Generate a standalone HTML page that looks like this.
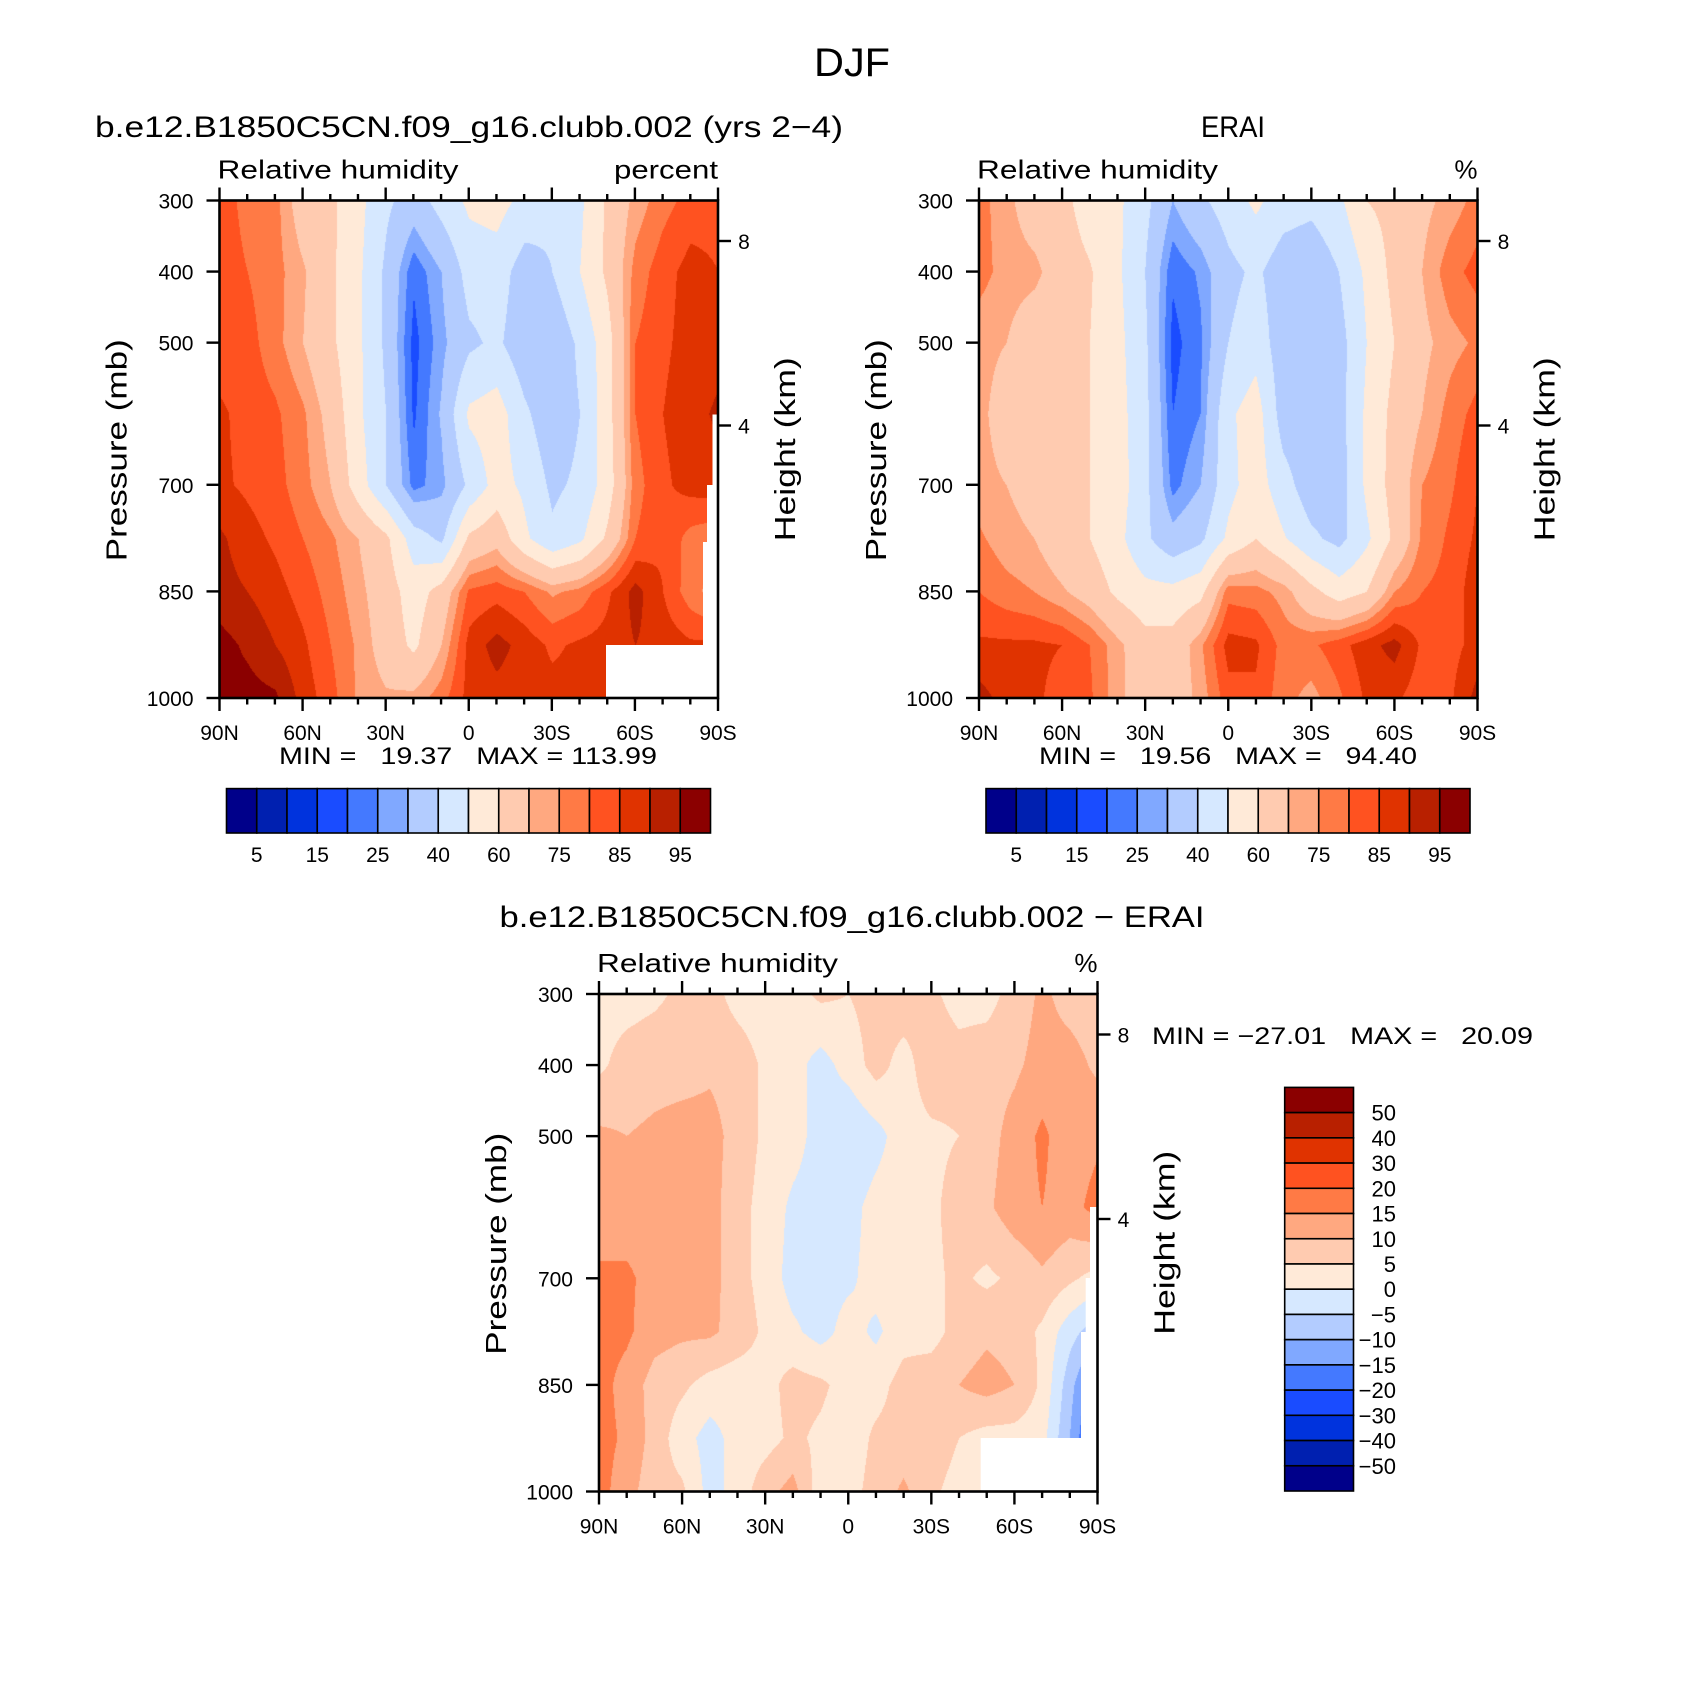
<!DOCTYPE html>
<html><head><meta charset="utf-8">
<style>
html,body{margin:0;padding:0;background:#fff;}
#wrap{position:relative;width:1697px;height:1694px;overflow:hidden;background:#fff;font-family:"Liberation Sans",sans-serif;}
canvas{position:absolute;}
svg{position:absolute;left:0;top:0;}
text{font-family:"Liberation Sans",sans-serif;fill:#000;}
</style></head>
<body>
<div id="wrap">
<canvas id="c1"></canvas>
<canvas id="c2"></canvas>
<canvas id="c3"></canvas>
<svg id="ov" width="1697" height="1694"></svg>
</div>
<script>
// ---- data ----
const latLabels = ["90N","60N","30N","0","30S","60S","90S"];
const pressureTicks = [300,400,500,700,850,1000];
const heightTicks = [8,4];
const levels = [300,400,500,600,700,775,850,925,1000];
const absBounds = [5,10,15,20,25,30,40,50,60,70,75,80,85,90,95];
const absLabels = ["5","15","25","40","60","75","85","95"];
const diffBounds = [-50,-40,-30,-20,-15,-10,-5,0,5,10,15,20,30,40,50];
const diffLabels = ["50","40","30","20","15","10","5","0","−5","−10","−15","−20","−30","−40","−50"];
const palette = ["#00008a","#0020b0","#0033dd","#1a4cff","#4479ff","#80a8ff","#b3ccff","#d6e8ff","#ffead8","#ffcbb0","#ffa880","#ff7a45","#ff5220","#e03300","#b82000","#8b0000"];
// model RH, rows = levels, columns 90N..90S every 10 deg
const modelRH = [
 [83,78,77,65,62,53,42,35,44,52,54,47,42,48,62,72,78,82,83],
 [83,80,77,71,62,52,38,21,30,44,45,35,40,50,62,77,83,87,85],
 [82,82,77,70,62,52,38,18,28,38,42,33,32,42,56,80,84,87,88],
 [86,83,81,76,67,52,40,19,31,52,55,42,33,40,56,80,85,88,91],
 [86,84,82,77,70,55,40,23,28,42,54,48,38,42,55,78,84,87,88],
 [91,87,84,80,76,70,62,45,38,62,67,52,42,48,62,80,84,78,76],
 [92,90,87,83,78,72,65,55,64,81,83,80,74,77,84,92,85,77,72],
 [97,94,90,86,80,74,66,58,70,87,92,88,84,86,87,90,88,86,86],
 [97,97,96,88,82,74,71,72,78,87,88,87,87,87,87,87,87,87,87]
];
const eraiRH = [
 [77,72,65,63,55,52,43,30,38,45,52,45,43,48,60,63,68,72,77],
 [77,73,72,65,61,52,40,21,26,37,42,34,32,40,52,63,70,78,82],
 [72,70,64,62,60,53,42,18,24,40,46,34,30,36,50,60,68,73,76],
 [72,66,63,62,60,54,43,20,25,48,55,35,33,36,52,63,70,77,82],
 [72,70,67,63,60,55,43,23,30,47,55,44,34,35,52,64,75,79,85],
 [76,72,70,64,60,53,42,33,38,52,60,51,42,37,48,62,76,81,86],
 [80,77,75,71,66,58,53,53,57,78,77,73,63,55,60,75,80,82,88],
 [86,86,86,85,80,72,64,64,74,87,86,78,79,83,88,92,84,83,87],
 [92,88,86,83,81,72,65,65,72,83,84,77,73,79,86,86,82,84,92]
];
const diffRH = [
 [3,3,4,6,7,3,2,3,6,5,7,8,6,3,3,7,11,8,7],
 [4,7,8,8,9,8,4,2,-2,2,7,3,8,7,8,9,12,12,9],
 [11,10,11,12,12,8,4,2,-2,-5,-2,3,4,5,8,12,16,12,14],
 [12,12,12,12,12,7,3,-1,-2,-2,2,3,4,7,9,13,15,13,17],
 [16,16,13,12,12,7,3,-2,-2,-1,2,3,4,6,4,6,9,6,3],
 [17,16,12,11,11,8,4,1,-2,2,-1,3,3,7,9,8,4,-3,-8],
 [17,13,8,6,3,2,3,7,6,3,3,7,8,10,12,10,4,-8,-20],
 [17,14,8,2,-2,2,3,6,4,2,6,7,8,5,3,3,2,-10,-25],
 [17,12,7,6,-2,2,8,12,2,3,7,11,6,3,3,3,3,3,3]
];

// ---- geometry ----
const W = 498.5, H = 497.5;
const panels = [
 {id:"c1", x:219.5, y:200.5, data:modelRH, bounds:absBounds, name:"model"},
 {id:"c2", x:979, y:200.5, data:eraiRH, bounds:absBounds, name:"erai"},
 {id:"c3", x:599, y:994, data:diffRH, bounds:diffBounds, name:"difference"}
];
function xOfLat(i){ return i/18*W; }
function yOfP(p){ return (p-300)/700*H; }
function binColor(v,b){ let k=0; while(k<b.length && v>=b[k]) k++; return palette[k]; }
function hexRGB(h){ return [parseInt(h.substr(1,2),16),parseInt(h.substr(3,2),16),parseInt(h.substr(5,2),16)]; }

function sample(data,fi,p){
  let li=0; while(li<levels.length-2 && p>levels[li+1]) li++;
  const t=Math.min(1,Math.max(0,(p-levels[li])/(levels[li+1]-levels[li])));
  const i0=Math.min(17,Math.floor(fi)), s=fi-i0;
  const a=data[li][i0]*(1-s)+data[li][i0+1]*s;
  const b=data[li+1][i0]*(1-s)+data[li+1][i0+1]*s;
  return a*(1-t)+b*t;
}
panels.forEach(pn=>{
  const c=document.getElementById(pn.id);
  const w=Math.round(W), h=Math.round(H);
  c.width=w; c.height=h; c.style.left=pn.x+"px"; c.style.top=pn.y+"px";
  const ctx=c.getContext("2d"); const img=ctx.createImageData(w,h);
  const cache={};
  for(let py=0;py<h;py++){
    const p=300+(py+0.5)/H*700;
    for(let px=0;px<w;px++){
      const fi=(px+0.5)/W*18;
      const v=sample(pn.data,fi,p);
      const col=binColor(v,pn.bounds);
      const rgb=cache[col]||(cache[col]=hexRGB(col));
      const o=(py*w+px)*4;
      img.data[o]=rgb[0]; img.data[o+1]=rgb[1]; img.data[o+2]=rgb[2]; img.data[o+3]=255;
    }
  }
  ctx.putImageData(img,0,0);
});

// ---- SVG overlay ----
const NS="http://www.w3.org/2000/svg";
const svg=document.getElementById("ov");
function el(tag,attrs,parent){ const e=document.createElementNS(NS,tag); for(const k in attrs) e.setAttribute(k,attrs[k]); (parent||svg).appendChild(e); return e; }
function txt(s,x,y,size,anchor,parent,extra){ const t=el("text",Object.assign({x:x,y:y,"font-size":size,"text-anchor":anchor||"start"},extra||{}),parent); t.textContent=s; return t; }
function fit(len){ return {textLength:len,lengthAdjust:"spacingAndGlyphs"}; }

function drawAxes(pn, opts){
  const g=el("g",{});
  
  
  const X=pn.x, Y=pn.y;
  (opts.masks||[]).forEach(m=>{
    const r=el("polygon",{points:m.map(q=>(X+q[0])+","+(Y+q[1])).join(" "),fill:"#fff"},g);
    
    
  });
  const frame=el("rect",{x:X,y:Y,width:W,height:H,fill:"none",stroke:"#000","stroke-width":2.6},g);
  
  
  for(let i=0;i<=18;i++){
    const x=X+xOfLat(i), major=(i%3===0), L=major?13:6.5;
    el("line",{x1:x,y1:Y+H,x2:x,y2:Y+H+L,stroke:"#000","stroke-width":2.4},g);
    el("line",{x1:x,y1:Y,x2:x,y2:Y-L,stroke:"#000","stroke-width":2.4},g);
  }
  latLabels.forEach((s,k)=>{
    const t=txt(s,X+xOfLat(k*3),Y+H+42,21,"middle",g);
    
    
  });
  pressureTicks.forEach(p=>{
    const y=Y+yOfP(p);
    el("line",{x1:X,y1:y,x2:X-13,y2:y,stroke:"#000","stroke-width":2.4},g);
    const t=txt(String(p),X-26,y+8,21,"end",g);
    
    
  });
  heightTicks.forEach(hk=>{
    const y=Y+40.5+(8-hk)/4*184.5;
    el("line",{x1:X+W,y1:y,x2:X+W+13,y2:y,stroke:"#000","stroke-width":2.4},g);
    const t=txt(String(hk),X+W+26,y+8,21,"middle",g);
    
    
  });
  const pl=txt("Pressure (mb)",0,0,29,"middle",g,Object.assign({transform:`translate(${X-93},${Y+H/2+1}) rotate(-90)`},fit(222)));
  
  
  const hl=txt("Height (km)",0,0,29,"middle",g,Object.assign({transform:`translate(${X+W+77},${Y+H/2}) rotate(-90)`},fit(184)));
  
  
  const rl=txt("Relative humidity",X-2,Y-22,26,"start",g,fit(241));
  
  
  const ul=txt(opts.units,X+W,Y-22,26,"end",g,opts.units==="percent"?fit(104):{});
  
  
  const tl=txt(opts.title,opts.titleX,opts.titleY,30,"middle",g,opts.titleLen?fit(opts.titleLen):{});
  
  
  const mm=txt(opts.minmax,opts.mmX,opts.mmY,24,opts.mmAnchor,g,Object.assign({"xml:space":"preserve",style:"white-space:pre"},fit(opts.mmLen)));
  
  
}

drawAxes(panels[0],{units:"percent",title:"b.e12.B1850C5CN.f09_g16.clubb.002 (yrs 2−4)",titleX:469,titleY:137,titleLen:748,
  minmax:"MIN =   19.37   MAX = 113.99",mmX:468,mmY:764,mmAnchor:"middle",mmLen:378,
  masks:[[[493,214],[498.5,214],[498.5,444.5],[386.5,444.5],[386.5,497.5],[498.5,497.5],[498.5,444.5],[483.5,444.5],[483.5,341.5],[487.5,341.5],[487.5,284.5],[493,284.5]]]});
drawAxes(panels[1],{units:"%",title:"ERAI",titleX:1233,titleY:137,titleLen:64,
  minmax:"MIN =   19.56   MAX =   94.40",mmX:1228,mmY:764,mmAnchor:"middle",mmLen:378,masks:[]});
drawAxes(panels[2],{units:"%",title:"b.e12.B1850C5CN.f09_g16.clubb.002 − ERAI",titleX:852,titleY:927,titleLen:705,
  minmax:"MIN = −27.01   MAX =   20.09",mmX:1152,mmY:1044,mmAnchor:"start",mmLen:381,
  masks:[[[491,213],[498.5,213],[498.5,444],[381.7,444],[381.7,497.5],[498.5,497.5],[498.5,444],[482,444],[482,338],[486.7,338],[486.7,284],[491,284]]]});

const main=txt("DJF",852,76,40,"middle",svg,fit(76));



function hColorbar(x0,y0,w,h,name){
  const g=el("g",{});
  
  
  const bw=w/palette.length;
  palette.forEach((c,k)=>{
    const r=el("rect",{x:x0+k*bw,y:y0,width:bw,height:h,fill:c,stroke:"#000","stroke-width":1.6},g);
    
    
  });
  absLabels.forEach((s,j)=>{
    const t=txt(s,x0+(2*j+1)*bw,y0+h+29,21,"middle",g);
    
    
  });
}
hColorbar(226.5,788.6,484,44.4,"model-colorbar");
hColorbar(986,788.6,484,44.4,"erai-colorbar");

(function(){
  const g=el("g",{});
  
  
  const x0=1284.7,y0=1087.4,w=68.8,h=403.6,bh=h/palette.length;
  for(let k=0;k<palette.length;k++){
    const r=el("rect",{x:x0,y:y0+k*bh,width:w,height:bh,fill:palette[palette.length-1-k],stroke:"#000","stroke-width":1.6},g);
    
    
  }
  diffLabels.forEach((s,k)=>{
    const t=txt(s,1396,y0+(k+1)*bh+8,22,"end",g);
    
    
  });
})();
</script>
</body></html>
